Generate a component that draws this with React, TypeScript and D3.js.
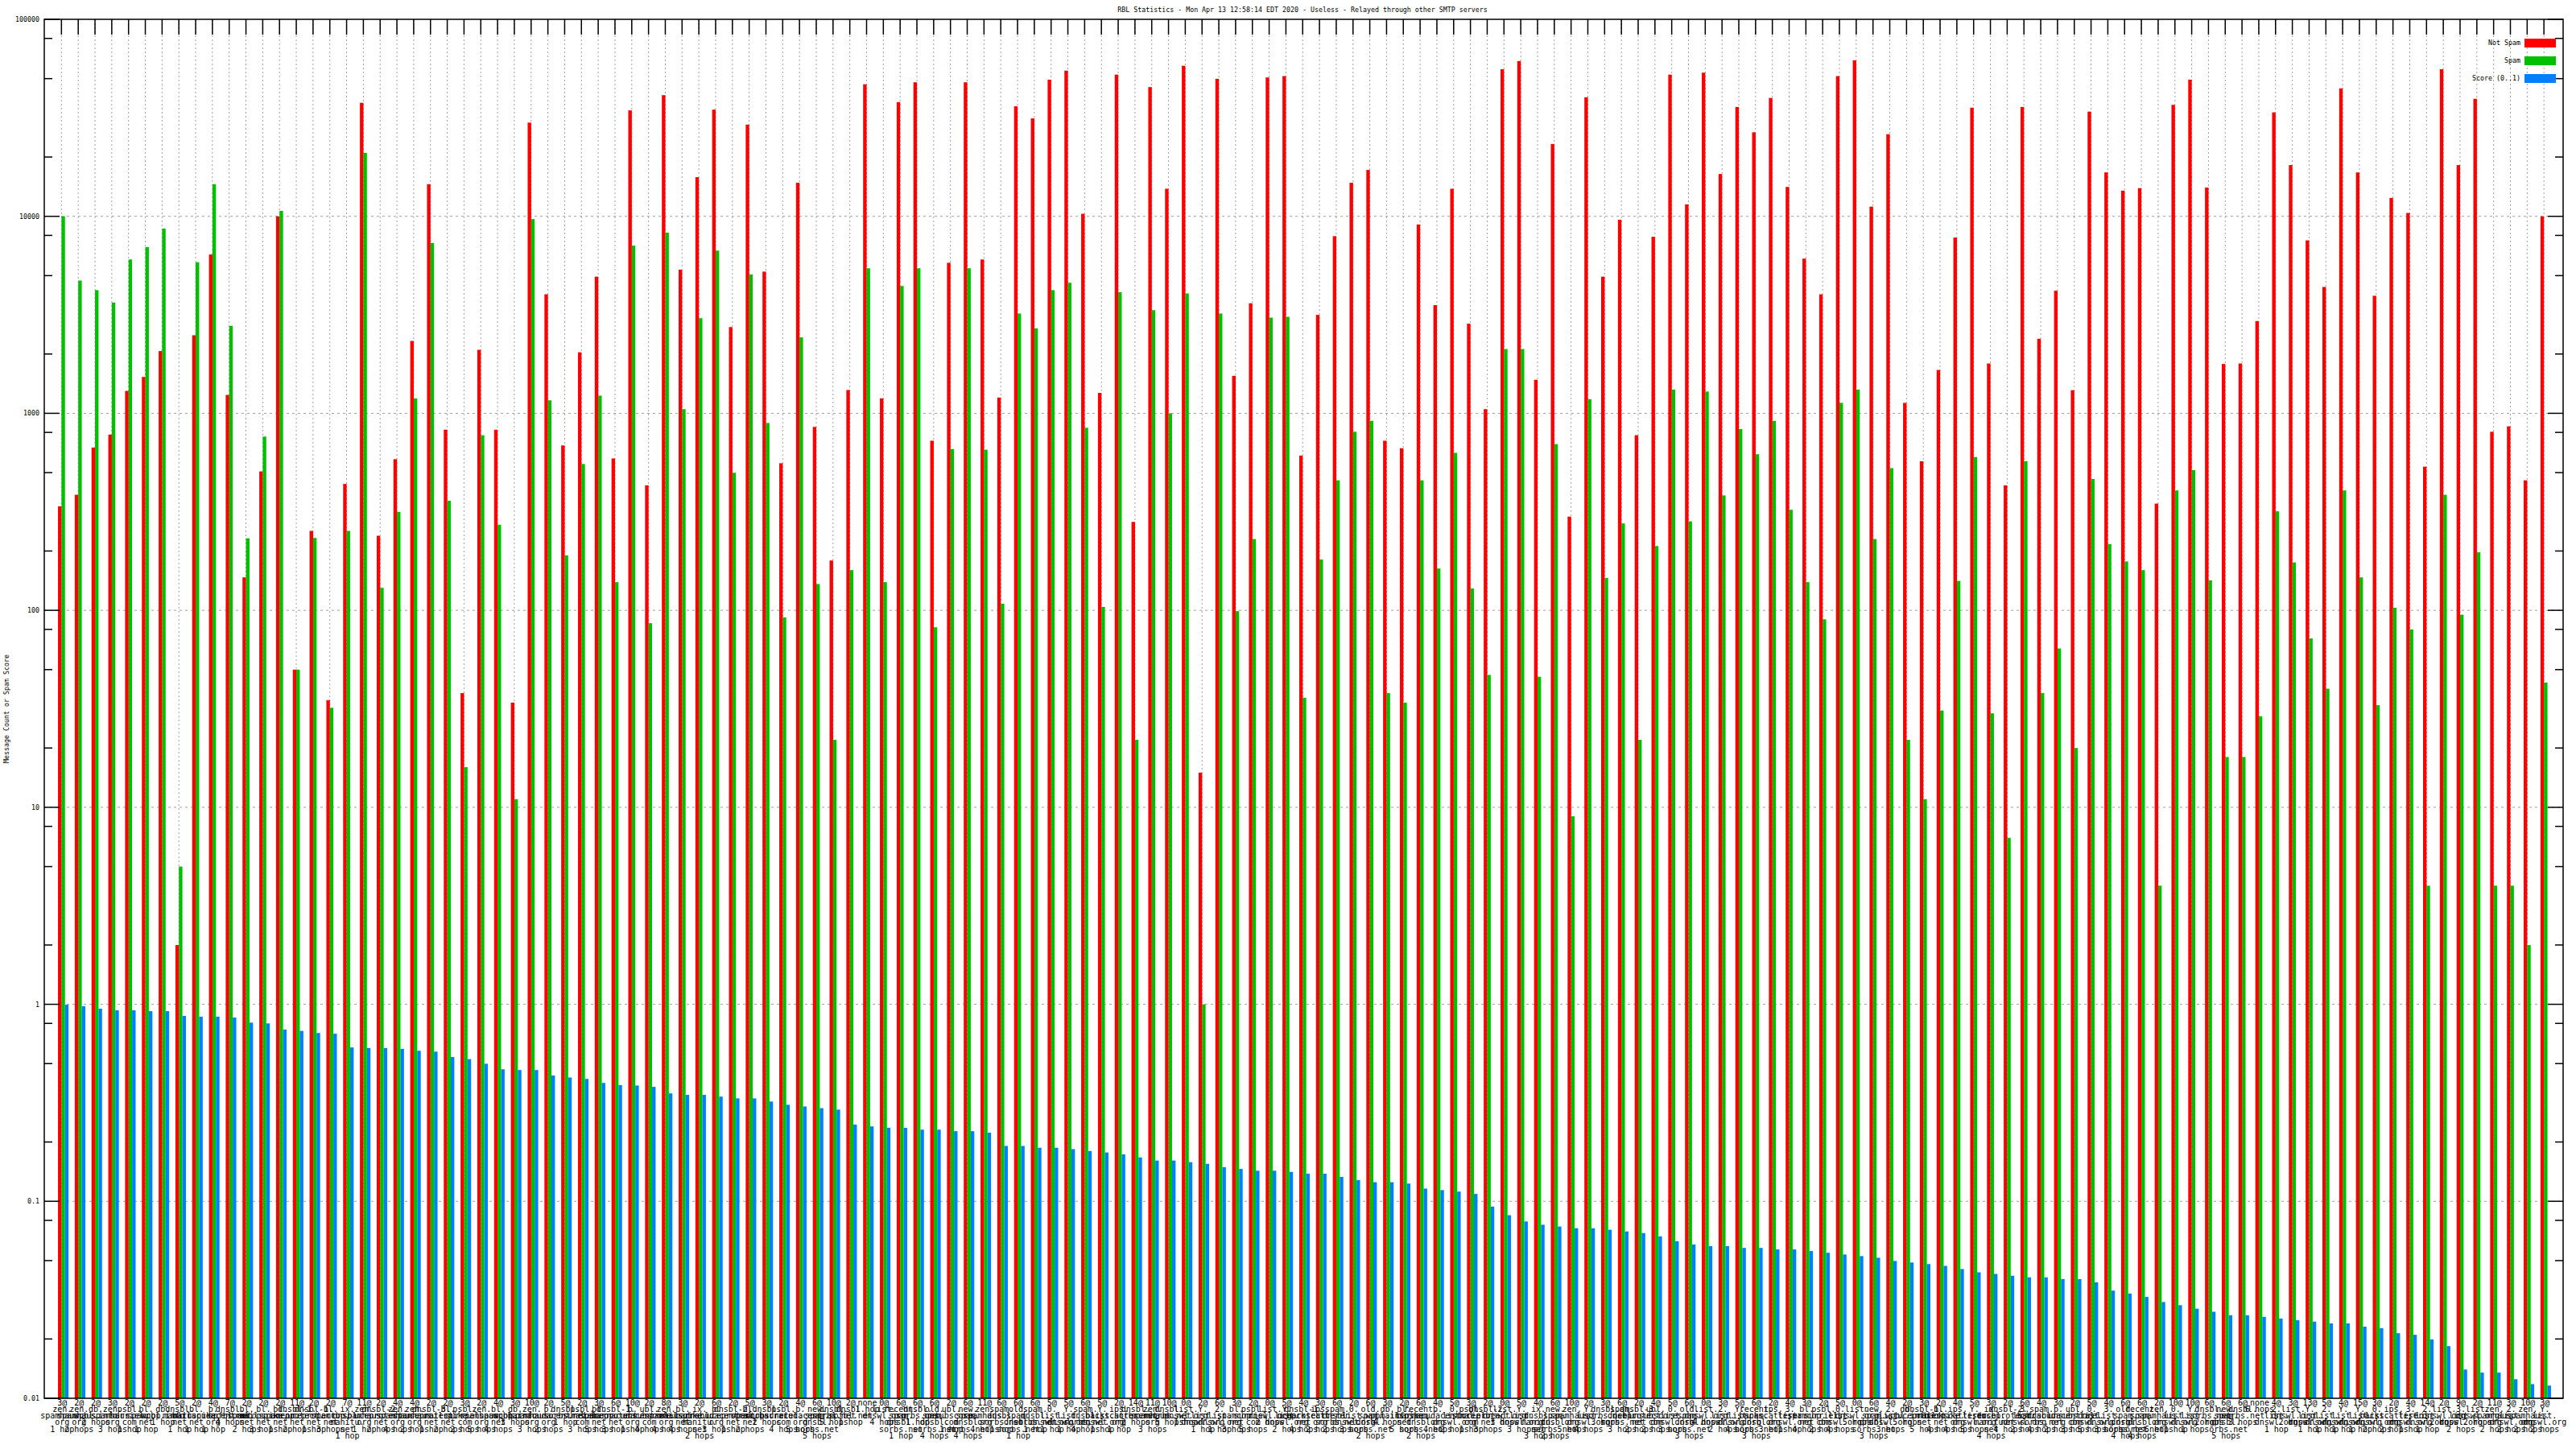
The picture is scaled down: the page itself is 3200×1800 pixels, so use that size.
import React from 'react';
import * as d3 from 'd3';

// one label per RBL/hops combination, sorted by spam score
const categories = [
  '3@zen.spamhaus.org 1 hop', '2@zen.spamhaus.org 2 hops', '2@db.wpbl.info 2 hops', '3@zen.spamhaus.org 3 hops',
  '2@psbl.surriel.com 1 hop', '2@bl.spamcop.net 1 hop', '2@db.wpbl.info 1 hop', '5@dnsbl.manitu.net 1 hop',
  '2@bl.mailspike.net 1 hop', '4@b.barracudacentral.org 1 hop', '7@dnsbl.spfbl.net 4 hops', '2@bl.spamcop.net 2 hops',
  '2@bl.mailspike.net 3 hops', '2@bl.spamcop.net 1 hop', '11@dnsbl-1.uceprotect.net 2 hops', '2@dnsbl-1.uceprotect.net 1 hop',
  '2@bl.spamcop.net 3 hops', '7@ix.dnsbl.manitu.net 1 hop', '11@zen.spamhaus.org 1 hop', '2@dnsbl-2.uceprotect.net 2 hops',
  '4@zen.spamhaus.org 4 hops', '4@zen.spamhaus.org 2 hops', '2@dnsbl-3.uceprotect.net 1 hop', '2@bl.mailspike.net 2 hops',
  '3@psbl.surriel.com 2 hops', '2@zen.spamhaus.org 5 hops', '4@bl.spamcop.net 4 hops', '3@db.wpbl.info 3 hops',
  '10@zen.spamhaus.org 3 hops', '2@b.barracudacentral.org 2 hops', '5@dnsbl.sorbs.net 1 hop', '2@psbl.surriel.com 3 hops',
  '3@bl.spamcop.net 5 hops', '6@dnsbl-1.uceprotect.net 3 hops', '10@b.barracudacentral.org 1 hop', '2@ubl.unsubscore.com 4 hops',
  '8@zen.spamhaus.org 4 hops', '3@bl.mailspike.net 4 hops', '2@ix.dnsbl.manitu.net 2 hops', '6@b.barracudacentral.org 3 hops',
  '2@dnsbl-2.uceprotect.net 1 hop', '5@bl.spamcop.net 2 hops', '3@dnsbl.sorbs.net 2 hops', '2@psbl.surriel.com 4 hops',
  '4@b.barracudacentral.org 5 hops', '6@new.spam.dnsbl.sorbs.net 5 hops', '10@dnsbl.sorbs.net 5 hops', '2@dnsbl.spfbl.net 1 hop',
  'none 1 hop', '0@list.dnswl.org 4 hops', '6@recent.spam.dnsbl.sorbs.net 1 hop', '6@dnsbl.sorbs.net 1 hop',
  '6@old.spam.dnsbl.sorbs.net 4 hops', '2@ubl.unsubscore.com 1 hop', '6@new.spam.dnsbl.sorbs.net 4 hops', '11@zen.spamhaus.org 4 hops',
  '6@spam.dnsbl.sorbs.net 1 hop', '6@old.spam.dnsbl.sorbs.net 1 hop', '6@spam.dnsbl.sorbs.net 1 hop', '5@0.list.dnswl.org 1 hop',
  '5@Y.list.dnswl.org 1 hop', '6@spam.dnsbl.sorbs.net 4 hops', '5@Y.list.dnswl.org 1 hop', '2@ips.backscatterer.org 1 hop',
  '14@dnsbl.sorbs.net 2 hops', '11@zen.spamhaus.org 3 hops', '10@dnsbl.sorbs.net 5 hops', '0@list.dnswl.org 1 hop',
  '2@Y.list.dnswl.org 1 hop', '6@2.list.dnswl.org 1 hop', '3@bl.spamcop.net 3 hops', '2@psbl.surriel.com 5 hops',
  '0@list.dnswl.org 2 hops', '5@Y.list.dnswl.org 2 hops', '4@dnsbl-1.uceprotect.net 4 hops', '3@ips.backscatterer.org 2 hops',
  '6@spam.dnsbl.sorbs.net 2 hops', '2@0.list.dnswl.org 3 hops', '6@old.spam.dnsbl.sorbs.net 2 hops', '3@db.wpbl.info 4 hops',
  '2@bl.mailspike.net 5 hops', '6@recent.spam.dnsbl.sorbs.net 2 hops', '4@b.barracudacentral.org 4 hops', '5@0.list.dnswl.org 2 hops',
  '3@psbl.surriel.com 1 hop', '2@dnsbl-2.uceprotect.net 3 hops', '0@list.dnswl.org 3 hops', '5@Y.list.dnswl.org 3 hops',
  '4@ix.dnsbl.manitu.net 3 hops', '6@new.spam.dnsbl.sorbs.net 2 hops', '10@zen.spamhaus.org 5 hops', '2@Y.list.dnswl.org 4 hops',
  '3@dnsbl.sorbs.net 3 hops', '6@spam.dnsbl.sorbs.net 3 hops', '2@dnsbl-3.uceprotect.net 2 hops', '4@ubl.unsubscore.com 2 hops',
  '5@0.list.dnswl.org 3 hops', '6@old.spam.dnsbl.sorbs.net 3 hops', '0@list.dnswl.org 4 hops', '3@2.list.dnswl.org 2 hops',
  '5@Y.list.dnswl.org 4 hops', '6@recent.spam.dnsbl.sorbs.net 3 hops', '2@ips.backscatterer.org 3 hops', '4@3.list.dnswl.org 1 hop',
  '3@bl.spamcop.net 4 hops', '2@psbl.surriel.com 2 hops', '5@0.list.dnswl.org 4 hops', '0@list.dnswl.org 5 hops',
  '6@new.spam.dnsbl.sorbs.net 3 hops', '4@2.list.dnswl.org 3 hops', '2@db.wpbl.info 5 hops', '3@dnsbl-1.uceprotect.net 5 hops',
  '2@bl.mailspike.net 4 hops', '4@ips.backscatterer.org 4 hops', '5@Y.list.dnswl.org 5 hops', '3@ix.dnsbl.manitu.net 4 hops',
  '2@dnsbl-2.uceprotect.net 4 hops', '6@3.list.dnswl.org 2 hops', '4@spam.dnsbl.sorbs.net 4 hops', '3@b.barracudacentral.org 2 hops',
  '2@ubl.unsubscore.com 3 hops', '5@0.list.dnswl.org 5 hops', '4@3.list.dnswl.org 3 hops', '6@old.spam.dnsbl.sorbs.net 4 hops',
  '6@recent.spam.dnsbl.sorbs.net 4 hops', '2@zen.spamhaus.org 6 hops', '10@0.list.dnswl.org 1 hop', '10@Y.list.dnswl.org 1 hop',
  '6@dnsbl.sorbs.net 2 hops', '6@new.spam.dnsbl.sorbs.net 5 hops', '6@dnsbl.sorbs.net 3 hops', 'none 6 hops',
  '4@2.list.dnswl.org 1 hop', '3@list.dnswl.org 2 hops', '13@Y.list.dnswl.org 1 hop', '5@2.list.dnswl.org 1 hop',
  '4@Y.list.dnswl.org 1 hop', '15@Y.list.dnswl.org 1 hop', '3@0.list.dnswl.org 2 hops', '2@ips.backscatterer.org 2 hops',
  '4@3.list.dnswl.org 1 hop', '14@2.list.dnswl.org 1 hop', '2@list.dnswl.org 2 hops', '9@3.list.dnswl.org 2 hops',
  '2@list.dnswl.org 2 hops', '11@zen.spamhaus.org 2 hops', '3@2.list.dnswl.org 2 hops', '10@zen.spamhaus.org 2 hops',
  '3@Y.list.dnswl.org 2 hops',
];

const notSpam = [
  337, 386, 670, 780, 1300, 1530, 2070, 2, 2490, 6400, 1240, 147, 507, 10000, 50, 253, 35, 438, 37700, 239,
  585, 2330, 14560, 826, 38, 2100, 826, 34, 29900, 4020, 687, 2040, 4940, 590, 34500, 431, 41200, 5360, 15800, 34800,
  2740, 29200, 5240, 558, 14800, 853, 179, 1313, 46800, 1191, 38000, 47900, 726, 5810, 47900, 6040, 1202, 36200, 31400, 49400,
  54900, 10300, 1270, 52400, 281, 45300, 13800, 58100, 15, 49900, 1550, 3620, 50700, 51500, 610, 3160, 7930, 14800, 17200, 726,
  665, 9090, 3540, 13800, 2850, 1050, 55800, 61400, 1480, 23300, 299, 40200, 4940, 9610, 774, 7870, 52400, 11500, 53600, 16400,
  35900, 26700, 39900, 14100, 6100, 4020, 51500, 61900, 11200, 26100, 1130, 571, 1660, 7800, 35600, 1790, 431, 35900, 2390, 4190,
  1310, 34000, 16700, 13500, 13900, 348, 36800, 49400, 14000, 1780, 1790, 2940, 33700, 18200, 7550, 4380, 44600, 16700, 3950, 12400,
  10400, 536, 55800, 18200, 39500, 806, 859, 457, 10000,
];

const spam = [
  10000, 4720, 4220, 3650, 6040, 6980, 8660, 5, 5850, 14560, 2780, 232, 762, 10660, 50, 233, 32, 253, 21000, 130,
  316, 1190, 7330, 360, 16, 774, 272, 11, 9680, 1164, 190, 553, 1230, 139, 7100, 86, 8260, 1050, 3040, 6700,
  499, 5070, 893, 92, 2430, 136, 22, 160, 5450, 139, 4430, 5450, 82, 659, 5450, 654, 108, 3210, 2700, 4220,
  4600, 845, 104, 4120, 22, 3340, 1000, 4060, 1, 3210, 99, 230, 3060, 3090, 36, 181, 457, 806, 916, 38,
  34, 457, 163, 630, 129, 47, 2120, 2120, 46, 698, 9, 1180, 146, 276, 22, 212, 1320, 283, 1290, 383,
  832, 620, 916, 324, 139, 90, 1130, 1320, 230, 527, 22, 11, 31, 141, 600, 30, 7, 571, 38, 64,
  20, 464, 217, 177, 160, 4, 406, 515, 142, 18, 18, 29, 318, 175, 72, 40, 406, 147, 33, 103,
  80, 4, 386, 95, 197, 4, 4, 2, 43,
];

const score = [
  0.995, 0.977, 0.95, 0.932, 0.932, 0.923, 0.923, 0.873, 0.865, 0.865, 0.857, 0.807, 0.8, 0.744, 0.733, 0.715, 0.709, 0.604, 0.6, 0.6,
  0.594, 0.581, 0.575, 0.54, 0.527, 0.499, 0.468, 0.464, 0.464, 0.435, 0.425, 0.418, 0.399, 0.389, 0.387, 0.381, 0.353, 0.347, 0.347, 0.34,
  0.333, 0.333, 0.321, 0.309, 0.303, 0.297, 0.292, 0.245, 0.24, 0.236, 0.236, 0.231, 0.231, 0.227, 0.227, 0.223, 0.191, 0.191, 0.187, 0.187,
  0.184, 0.18, 0.177, 0.173, 0.167, 0.161, 0.161, 0.158, 0.155, 0.149, 0.146, 0.143, 0.143, 0.141, 0.138, 0.138, 0.133, 0.128, 0.125, 0.125,
  0.123, 0.116, 0.114, 0.112, 0.109, 0.094, 0.085, 0.079, 0.076, 0.0745, 0.073, 0.073, 0.0717, 0.0703, 0.069, 0.0664, 0.0627, 0.0604, 0.0592, 0.0592,
  0.058, 0.058, 0.057, 0.057, 0.0559, 0.0548, 0.0537, 0.0527, 0.0517, 0.0498, 0.0489, 0.048, 0.047, 0.0453, 0.0436, 0.0428, 0.0419, 0.0411, 0.0411, 0.0403,
  0.0403, 0.0388, 0.0352, 0.034, 0.0327, 0.0308, 0.0297, 0.0285, 0.0275, 0.0264, 0.0264, 0.0259, 0.0254, 0.0249, 0.0245, 0.024, 0.024, 0.0231, 0.0227, 0.0214,
  0.021, 0.0199, 0.0184, 0.014, 0.0135, 0.0135, 0.0125, 0.0118, 0.0116,
];

const yTicks = [100000, 10000, 1000, 100, 10, 1, 0.1, 0.01];
const yTickLabels = ['100000', '10000', '1000', '100', '10', '1', '0.1', '0.01'];
const seriesNames = ['Not Spam', 'Spam', 'Score (0..1)'];
const seriesColors = ['#ff0000', '#00c000', '#0080ff'];

const titleText = 'RBL Statistics - Mon Apr 13 12:58:14 EDT 2020 - Useless - Relayed through other SMTP servers';
const yTitle = 'Message Count or Spam Score';

const W = 3200;
const H = 1800;
const left = 55;
const right = 3184;
const top = 24;
const bottom = 1737;
const font = '"DejaVu Sans Mono", monospace';

// split "3@zen.spamhaus.org 1 hop" into the stacked lines gnuplot shows
function labelLines(cat: string): string[] {
  const sp = cat.indexOf(' ');
  const head = cat.slice(0, sp);
  const hops = cat.slice(sp + 1);
  if (head === 'none') return ['none', hops];
  const at = head.indexOf('@');
  const parts = head.slice(at + 1).split('.');
  const lines = parts.map((p, i) => (i < parts.length - 1 ? p + '.' : p));
  if (lines.length > 1) {
    const a = lines[lines.length - 2];
    const b = lines[lines.length - 1];
    if ((a + b).length <= 9) lines.splice(lines.length - 2, 2, a + b);
  }
  return [head.slice(0, at + 1), ...lines, hops];
}

export default function App() {
  const x = d3.scaleLinear().domain([-1, categories.length]).range([55.5, 3181]);
  const y = d3.scaleLog().domain([0.01, 100000]).range([bottom, top]);

  const minor: number[] = [];
  for (let e = -2; e < 5; e++) [2, 5, 8].forEach(m => minor.push(m * Math.pow(10, e)));

  const series = [notSpam, spam, score];
  const offs = [-4.3, 0, 4.4];
  const bw = 4.4;

  return (
    <svg width={W} height={H} style={{ position: 'absolute', left: 0, top: 0, background: '#fff' }}>
      <rect x={0} y={0} width={W} height={H} fill="#fff" />

      {/* grid */}
      {categories.map((c, i) => (
        <line key={'vg' + i} x1={x(i)} x2={x(i)} y1={top} y2={bottom} stroke="#a0a0a0" strokeWidth={1} strokeDasharray="2,3" />
      ))}
      {yTicks.slice(1, -1).map(t => (
        <line key={'hg' + t} x1={left} x2={right} y1={y(t)} y2={y(t)} stroke="#a0a0a0" strokeWidth={1} strokeDasharray="3,4" />
      ))}

      {/* bars */}
      {series.map((vals, s) =>
        vals.map((v, i) => (
          <rect key={s + '-' + i} x={x(i) + offs[s]} y={y(v)} width={bw} height={bottom - y(v)} fill={seriesColors[s]} />
        ))
      )}

      {/* ticks */}
      {categories.map((c, i) => (
        <g key={'xt' + i}>
          <line x1={x(i)} x2={x(i)} y1={top} y2={top + 19} stroke="#000" strokeWidth={1.5} />
        </g>
      ))}
      {yTicks.map(t => (
        <g key={'yt' + t}>
          <line x1={left} x2={left + 19} y1={y(t)} y2={y(t)} stroke="#000" strokeWidth={1.5} />
          <line x1={right - 19} x2={right} y1={y(t)} y2={y(t)} stroke="#000" strokeWidth={1.5} />
        </g>
      ))}
      {minor.map(t => (
        <g key={'ym' + t}>
          <line x1={left} x2={left + 10} y1={y(t)} y2={y(t)} stroke="#000" strokeWidth={1.5} />
          <line x1={right - 10} x2={right} y1={y(t)} y2={y(t)} stroke="#000" strokeWidth={1.5} />
        </g>
      ))}
      <rect x={left} y={top} width={right - left} height={bottom - top} fill="none" stroke="#000" strokeWidth={1.5} />

      {/* y tick labels */}
      {yTicks.map((t, k) => (
        <text key={'yl' + t} x={49} y={y(t) + 3} textAnchor="end" fontFamily={font} fontSize={8.3} fill="#000">
          {yTickLabels[k]}
        </text>
      ))}

      {/* x labels */}
      {categories.map((c, i) => (
        <text key={'xl' + i} textAnchor="middle" fontFamily={font} fontSize={10} fill="#000">
          {labelLines(c).map((ln, k) => (
            <tspan key={k} x={x(i) + 1} y={1745.5 + k * 8.25}>{ln}</tspan>
          ))}
        </text>
      ))}

      {/* titles */}
      <text x={1618} y={15} textAnchor="middle" fontFamily={font} fontSize={8.3} fill="#000">{titleText}</text>
      <text transform={`translate(11,${(top + bottom) / 2}) rotate(-90)`} textAnchor="middle" fontFamily={font} fontSize={8.3} fill="#000">
        {yTitle}
      </text>

      {/* legend */}
      {seriesNames.map((n, k) => (
        <g key={'lg' + k}>
          <text x={3131} y={56 + k * 22} textAnchor="end" fontFamily={font} fontSize={8.3} fill="#000">{n}</text>
          <rect x={3136} y={48 + k * 22} width={39} height={11} fill={seriesColors[k]} />
        </g>
      ))}
    </svg>
  );
}
